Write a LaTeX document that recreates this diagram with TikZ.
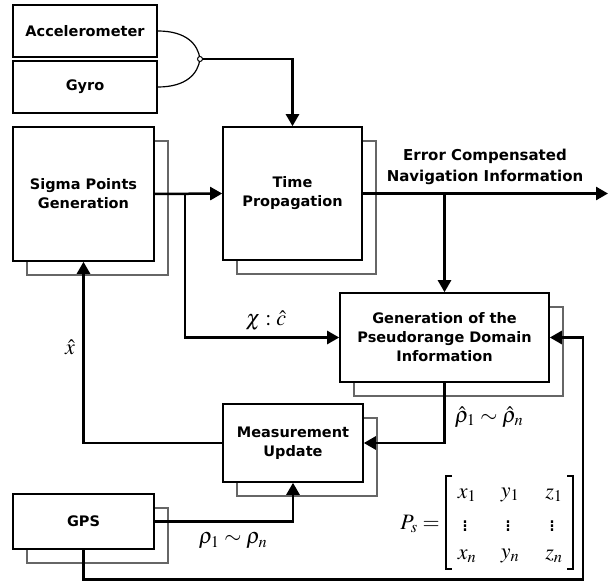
\documentclass[tikz,border=0pt]{standalone}
\usepackage{amsmath}
\usepackage{mathptmx}
\usepackage[no-math]{fontspec}
\setmainfont{DejaVu Sans}
\usetikzlibrary{arrows.meta,backgrounds}
\begin{document}
\begin{tikzpicture}[x=1pt,y=-1pt,
  box/.style={draw, line width=1.6pt, fill=white, align=center,
    font=\fontsize{14.5}{19}\selectfont\bfseries, inner sep=0pt},
  shadebox/.style={draw=black!60, line width=1.6pt, fill=white},
  conn/.style={line width=2.5pt},
  arr/.style={conn, -{Triangle[length=12pt,width=13pt]}},
  lbl/.style={font=\fontsize{22}{24}\selectfont, inner sep=0pt},
  ent/.style={font=\fontsize{22}{24}\selectfont, inner sep=0pt},
  brk/.style={line width=1.3pt}]
\useasboundingbox (0,0) rectangle (613,583);

\node[box, minimum width=144pt, minimum height=52pt] (acc) at (85,31) {Accelerometer};
\node[box, minimum width=144pt, minimum height=52pt] (gyro) at (85,87) {Gyro};
\node[box, minimum width=141pt, minimum height=134pt] (sigma) at (83.5,194) {Sigma Points\\Generation};
\node[box, minimum width=139pt, minimum height=133pt] (time) at (292.5,193.5) {Time\\Propagation};
\node[box, minimum width=209pt, minimum height=89pt] (gen) at (444.5,337.5) {Generation of the\\Pseudorange Domain\\Information};
\node[box, minimum width=140pt, minimum height=78pt] (meas) at (293,443) {Measurement\\Update};
\node[box, minimum width=141pt, minimum height=55pt] (gps) at (83.5,521.5) {GPS};

\begin{scope}[on background layer]
\foreach \n in {sigma,time,gen,meas,gps}
  \draw[shadebox] ([shift={(15,15)}]\n.north west) rectangle ([shift={(13,13)}]\n.south east);
\end{scope}

% gate
\coordinate (j) at (200,59);
\draw[line width=1.2pt] (acc.east) .. controls (186,31) and (198,44) .. (j);
\draw[line width=1.2pt] (gyro.east) .. controls (186,87) and (198,74) .. (j);
\draw[arr] (j) -| (time.north);
\draw[line width=1pt, fill=white] (j) circle (2.5pt);

% sigma -> time, branch -> gen
\draw[arr] (sigma.east) -- (time.west);
\coordinate (b) at (185,193.5);
\draw[arr] (b) |- (gen.west);
\node[lbl] (chic) at (266,321) {$\chi:\hat{c}$};

% output
\coordinate (out) at (608,193.5);
\draw[arr] (time.east) -- (out);
\node[font=\fontsize{15}{21}\selectfont\bfseries, align=center] (errtxt) at (485,167) {Error Compensated\\Navigation Information};
\coordinate (o2) at (444.5,193.5);
\draw[arr] (o2) -- (gen.north);

% gen -> meas
\draw[arr] (gen.south) |- (meas.east);
\node[lbl] (rhohat) at (489,417) {$\hat{\rho}_1 \sim \hat{\rho}_n$};

% meas -> sigma
\draw[arr] (meas.west) -| (sigma.south);
\node[lbl] (xhat) at (70,347) {$\hat{x}$};

% gps -> meas
\draw[arr] (gps.east) -| (meas.south);
\node[lbl] (rho) at (233,541) {$\rho_1 \sim \rho_n$};

% gps -> gen loop
\coordinate (c1) at (83.5,579.5);
\coordinate (c2) at (583,579.5);
\draw[arr] (gps.south) -- (c1) -- (c2) |- (gen.east);

% matrix P_s
\node[ent, anchor=east] (ps) at (440,524) {$P_s=$};
\draw[brk] (452,476) -- (446,476) -- (446,569) -- (452,569);
\draw[brk] (567,476) -- (573,476) -- (573,569) -- (567,569);
\node[ent] (m11) at (467,495) {$x_1$};
\node[ent] (m12) at (510,495) {$y_1$};
\node[ent] (m13) at (554,495) {$z_1$};
\node[ent] (m21) at (465,523) {$\vdots$};
\node[ent] (m22) at (508,523) {$\vdots$};
\node[ent] (m23) at (552,523) {$\vdots$};
\node[ent] (m31) at (467,556) {$x_n$};
\node[ent] (m32) at (510,556) {$y_n$};
\node[ent] (m33) at (554,556) {$z_n$};
\end{tikzpicture}
\end{document}
